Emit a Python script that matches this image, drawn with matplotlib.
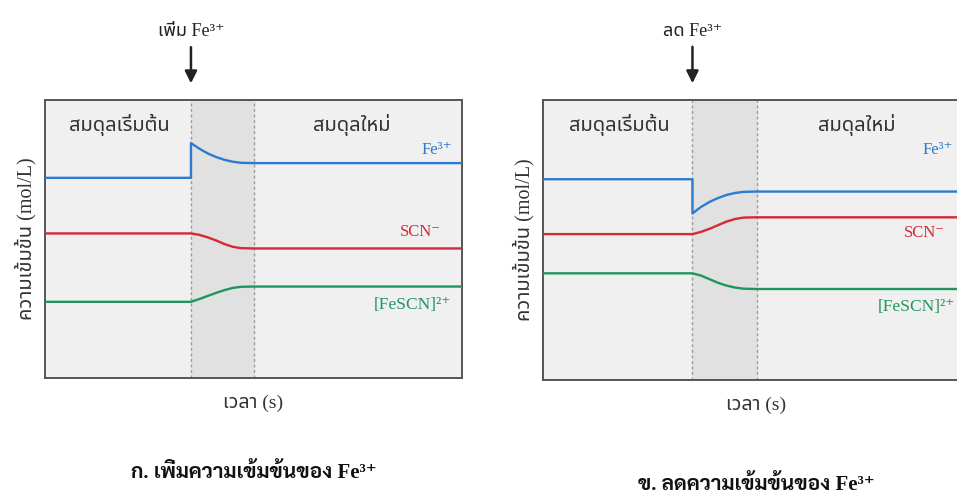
import matplotlib
matplotlib.use("Agg")
import matplotlib.pyplot as plt

THAI = ["Noto Sans Thai", "DejaVu Sans"]
MIXED = ["Liberation Serif", "Noto Sans Thai", "DejaVu Serif"]
CAPTION = ["Liberation Serif", "Sarabun", "DejaVu Serif"]

# === Data (time 0-100, concentration 0-10) ===
t_change = [0, 35, 35, 37, 39, 41, 43, 45, 47, 50, 100]
t_smooth = [0, 35, 37, 39, 41, 43, 45, 47, 50, 100]

# ก. add Fe3+
add_fe = [7.2, 7.2, 8.45, 8.25, 8.08, 7.95, 7.85, 7.78, 7.74, 7.73, 7.73]
add_scn = [5.2, 5.2, 5.15, 5.06, 4.95, 4.82, 4.72, 4.67, 4.66, 4.66]
add_fescn = [2.74, 2.74, 2.84, 2.95, 3.06, 3.16, 3.24, 3.28, 3.29, 3.29]

# ข. remove Fe3+
rem_fe = [7.17, 7.17, 5.95, 6.18, 6.36, 6.5, 6.61, 6.68, 6.72, 6.73, 6.73]
rem_scn = [5.21, 5.21, 5.29, 5.4, 5.53, 5.66, 5.75, 5.8, 5.81, 5.81]
rem_fescn = [3.81, 3.81, 3.73, 3.6, 3.47, 3.37, 3.3, 3.26, 3.25, 3.25]

BLUE = "#2b7bd0"
RED = "#d42a35"
GREEN = "#1f9660"

fig = plt.figure(figsize=(9.57, 4.96), dpi=100)
ax1 = fig.add_axes([45 / 957, 118 / 496, 417 / 957, 278 / 496])
ax2 = fig.add_axes([543 / 957, 116 / 496, 427 / 957, 280 / 496])


def draw_panel(ax, fe, scn, fescn, action, caption, cap_y, lab_pos):
    ax.set_facecolor("#f0f0f0")
    ax.axvspan(35, 50, color="#e1e1e1", zorder=0)
    for xv in (35, 50):
        ax.axvline(xv, color="#9a9a9a", lw=1, ls=(0, (2, 2)), zorder=1)

    ax.plot(t_change, fe, color=BLUE, lw=1.7, zorder=3)
    ax.plot(t_smooth, scn, color=RED, lw=1.7, zorder=3)
    ax.plot(t_smooth, fescn, color=GREEN, lw=1.7, zorder=3)

    ax.set_xlim(0, 100)
    ax.set_ylim(0, 10)
    ax.set_xticks([])
    ax.set_yticks([])
    for s in ax.spines.values():
        s.set_color("#555555")
        s.set_linewidth(1.4)

    ax.text(17.8, 9.1, "สมดุลเริ่มต้น", ha="center", va="center",
            fontsize=14.5, family=THAI, color="#333333")
    ax.text(73.5, 9.1, "สมดุลใหม่", ha="center", va="center",
            fontsize=14.5, family=THAI, color="#333333")

    (fx, fy), (sx, sy), (gx, gy) = lab_pos
    ax.text(fx, fy, "Fe³⁺", ha="right", va="center", fontsize=12,
            family=MIXED, color=BLUE)
    ax.text(sx, sy, "SCN⁻", ha="right", va="center", fontsize=12,
            family=MIXED, color=RED)
    ax.text(gx, gy, "[FeSCN]²⁺", ha="right", va="center", fontsize=12.5,
            family=MIXED, color=GREEN)

    tr = ax.get_xaxis_transform()
    ax.annotate("", xy=(35, 1.05), xytext=(35, 1.2), xycoords=tr, textcoords=tr,
                arrowprops=dict(arrowstyle="-|>", color="#222222", lw=1.8,
                                mutation_scale=18))
    ax.text(35, 1.245, action, transform=tr, ha="center", va="center",
            fontsize=13, family=MIXED, color="#222222")

    ax.set_xlabel("เวลา (s)", fontsize=14, family=MIXED, color="#333333", labelpad=12)
    ax.set_ylabel("ความเข้มข้น (mol/L)", fontsize=14.5, family=MIXED,
                  color="#333333", labelpad=6)
    ax.text(50, cap_y, caption, transform=tr, ha="center", va="center",
            fontsize=15, fontweight="bold", family=CAPTION, color="#111111")


draw_panel(ax1, add_fe, add_scn, add_fescn, "เพิ่ม Fe³⁺",
           "ก. เพิ่มความเข้มข้นของ Fe³⁺", -0.34,
           [(97.5, 8.2), (95, 5.25), (97.5, 2.63)])
draw_panel(ax2, rem_fe, rem_scn, rem_fescn, "ลด Fe³⁺",
           "ข. ลดความเข้มข้นของ Fe³⁺", -0.375,
           [(96, 8.2), (94, 5.25), (96.5, 2.6)])

fig.savefig("out.png", dpi=100)
